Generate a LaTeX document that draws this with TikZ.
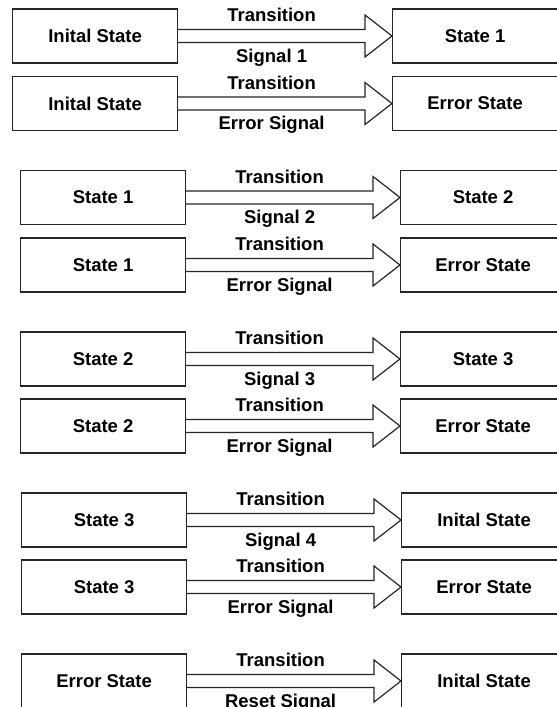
\documentclass[tikz,border=0pt]{standalone}
\usepackage{fontspec}
\setmainfont{Liberation Sans}
\usetikzlibrary{calc}
\tikzset{
  statebox/.style={draw=black!85, line width=1.2pt, minimum width=165pt, minimum height=54pt,
    inner sep=0pt, font=\fontsize{18.5}{21}\selectfont\bfseries},
  blockarrow/.style={draw=black!85, line width=1.2pt, line join=miter},
  arrlabel/.style={inner sep=0pt, anchor=base, font=\fontsize{18.5}{21}\selectfont\bfseries},
}
% id, y, left-box left edge, right-box left edge, left text, right text, signal
\newcommand{\StRow}[7]{%
  \node[statebox, anchor=west] (#1L) at (#3,#2) {#5};
  \node[statebox, anchor=west] (#1R) at (#4,#2) {#6};
  \draw[blockarrow] ($(#1L.east)+(0,-6.5)$) -- ($(#1R.west)+(-27,-6.5)$)
    -- ($(#1R.west)+(-27,-21)$) -- (#1R.west) -- ($(#1R.west)+(-27,21)$)
    -- ($(#1R.west)+(-27,6.5)$) -- ($(#1L.east)+(0,6.5)$);
  \coordinate (#1M) at ($(#1L.east)!0.5!(#1R.west)+(-13.5,0)$);
  \node[arrlabel] (#1T) at ($(#1M)+(0,-14.5)$) {Transition};
  \node[arrlabel] (#1S) at ($(#1M)+(0,26)$) {#7};
}
\begin{document}
\begin{tikzpicture}[x=1pt,y=-1pt]
  \clip (0,0) rectangle (557,707);
  \fill[white] (0,0) rectangle (557,707);
  \StRow{a}{36}{12}{392}{Inital State}{State 1}{Signal 1}
  \StRow{b}{103.5}{12}{392}{Inital State}{Error State}{Error Signal}
  \StRow{c}{197.5}{20}{400}{State 1}{State 2}{Signal 2}
  \StRow{d}{265}{20}{400}{State 1}{Error State}{Error Signal}
  \StRow{e}{359}{20}{400}{State 2}{State 3}{Signal 3}
  \StRow{f}{426}{20}{400}{State 2}{Error State}{Error Signal}
  \StRow{g}{520}{21}{401}{State 3}{Inital State}{Signal 4}
  \StRow{h}{587}{21}{401}{State 3}{Error State}{Error Signal}
  \StRow{i}{681}{21}{401}{Error State}{Inital State}{Reset Signal}
\end{tikzpicture}
\end{document}
